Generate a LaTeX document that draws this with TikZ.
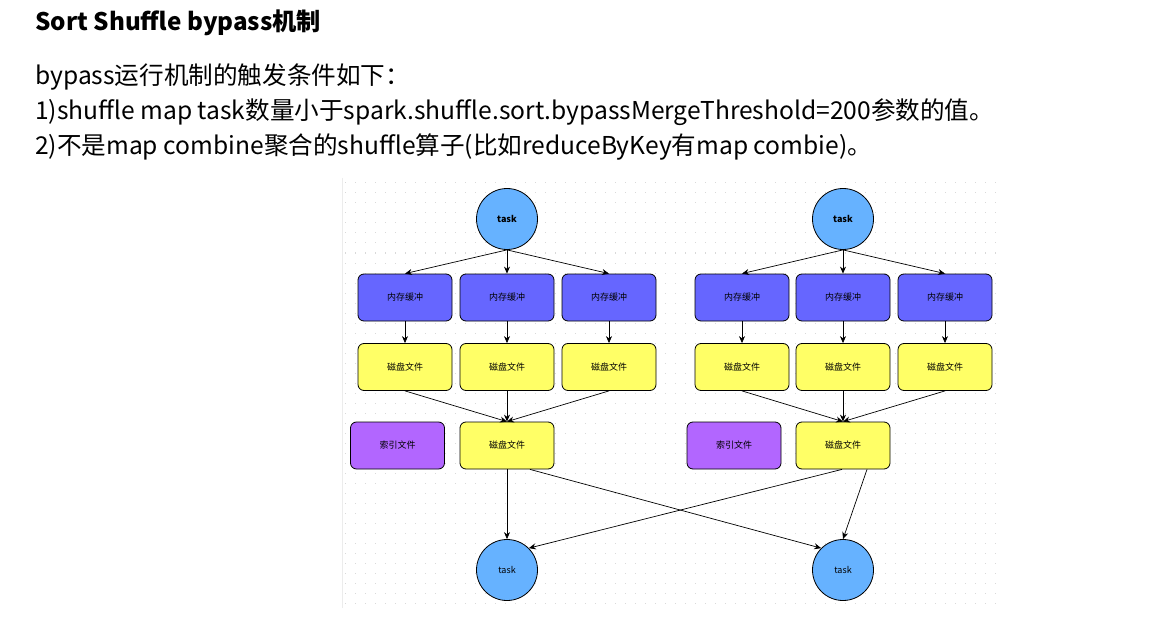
\documentclass[tikz,border=0pt]{standalone}
\usepackage{fontspec}
\setmainfont{Noto Sans CJK SC}
\usetikzlibrary{arrows.meta}
\definecolor{taskblue}{HTML}{66B2FF}
\definecolor{membuf}{HTML}{6666FF}
\definecolor{diskyel}{HTML}{FFFF66}
\definecolor{idxpur}{HTML}{B266FF}
\tikzset{
 box/.style={draw=black, rounded corners=6pt, minimum width=94pt, minimum height=47pt, inner sep=0pt, font=\fontsize{9}{10}\selectfont, line width=0.8pt},
 membox/.style={box, fill=membuf},
 diskbox/.style={box, fill=diskyel},
 idxbox/.style={box, fill=idxpur},
 tasknode/.style={circle, draw=black, fill=taskblue, minimum size=61pt, inner sep=0pt, font=\fontsize{9}{10}\selectfont, line width=0.8pt},
 conn/.style={-{Stealth[length=7pt,width=6pt]}, line width=0.7pt},
 bodytext/.style={anchor=west, inner sep=0pt, font=\fontsize{24.6}{26}\selectfont},
}
\begin{document}
\begin{tikzpicture}[x=1pt,y=-1pt]
\useasboundingbox[fill=white] (0,0) rectangle (1170,639);
% texts
\node[anchor=west, inner sep=0pt, font=\fontsize{24.2}{26}\selectfont\bfseries] (title) at (35,23) {Sort Shuffle bypass机制};
\node[bodytext] (l1) at (35,77) {bypass运行机制的触发条件如下：};
\node[bodytext] (l2) at (35,112) {1)shuffle map task数量小于spark.shuffle.sort.bypassMergeThreshold=200参数的值。};
\node[bodytext] (l3) at (35,147) {2)不是map combine聚合的shuffle算子(比如reduceByKey有map combie)。};
% diagram background
\fill[white] (342,178) rectangle (1002,608);
\draw[gray!15, line width=0.6pt] (342,178) -- (342,608);
\foreach \yy in {183,193,...,603}
  \draw[gray!30, line width=1pt, dash pattern=on 1pt off 9pt] (345,\yy) -- (1000,\yy);
% left group
\node[tasknode, font=\fontsize{9}{10}\selectfont\bfseries] (t1) at (507,219) {task};
\node[membox] (m1) at (405,297.5) {内存缓冲};
\node[membox] (m2) at (507,297.5) {内存缓冲};
\node[membox] (m3) at (609,297.5) {内存缓冲};
\node[diskbox] (d1) at (405,367) {磁盘文件};
\node[diskbox] (d2) at (507,367) {磁盘文件};
\node[diskbox] (d3) at (609,367) {磁盘文件};
\node[idxbox] (i1) at (397.5,445.5) {索引文件};
\node[diskbox] (dm1) at (507,445.5) {磁盘文件};
% right group
\node[tasknode, font=\fontsize{9}{10}\selectfont\bfseries] (t2) at (843,219) {task};
\node[membox] (m4) at (742,297.5) {内存缓冲};
\node[membox] (m5) at (843,297.5) {内存缓冲};
\node[membox] (m6) at (945,297.5) {内存缓冲};
\node[diskbox] (d4) at (742,367) {磁盘文件};
\node[diskbox] (d5) at (843,367) {磁盘文件};
\node[diskbox] (d6) at (945,367) {磁盘文件};
\node[idxbox] (i2) at (734,445.5) {索引文件};
\node[diskbox] (dm2) at (843,445.5) {磁盘文件};
% bottom tasks
\node[tasknode] (b1) at (507,570) {task};
\node[tasknode] (b2) at (843,570) {task};
% connectors
\foreach \s/\m in {t1/m1,t1/m2,t1/m3,t2/m4,t2/m5,t2/m6}
  \draw[conn] (\s.south) -- (\m.north);
\foreach \m/\d in {m1/d1,m2/d2,m3/d3,m4/d4,m5/d5,m6/d6}
  \draw[conn] (\m.south) -- (\d.north);
\foreach \d/\t in {d1/dm1,d2/dm1,d3/dm1,d4/dm2,d5/dm2,d6/dm2}
  \draw[conn] (\d.south) -- (\t.north);
\draw[conn] (dm1.south) -- (b1.north);
\draw[conn] ([xshift=23pt]dm1.south) -- (b2.north west);
\draw[conn] ([xshift=-1pt]dm2.south) -- (b1.north east);
\draw[conn] ([xshift=24pt]dm2.south) -- (b2.north);
\end{tikzpicture}
\end{document}
